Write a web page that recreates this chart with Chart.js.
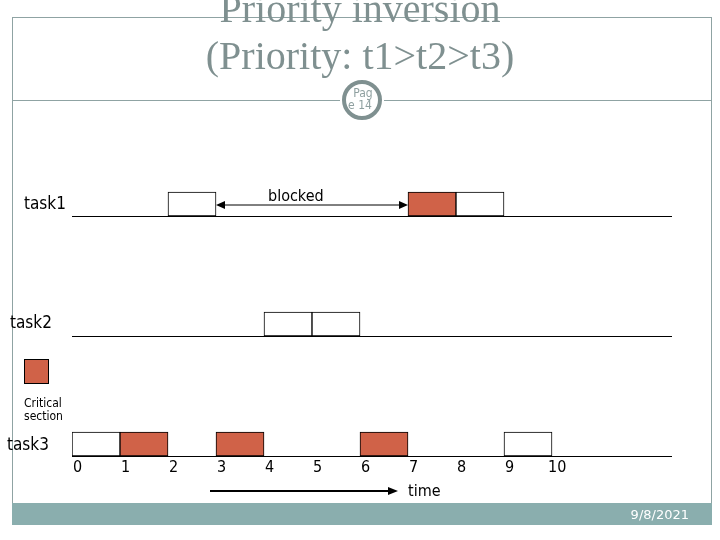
<!DOCTYPE html>
<html><head><meta charset="utf-8">
<script src="https://cdn.jsdelivr.net/npm/chart.js@4/dist/chart.umd.min.js"></script>
<style>html,body{margin:0;padding:0;background:#fff}#c{display:block}</style>
</head><body>
<canvas id="c" width="720" height="540"></canvas>
<script>
const tasks = ['task1','task2','task3'];
const task1Slots = [[2,3],[7,8],[8,9]];
const task1Critical = [false,true,false];
const task2Slots = [[4,5],[5,6]];
const task2Critical = [false,false];
const task3Slots = [[0,1],[1,2],[3,4],[6,7],[9,10]];
const task3Critical = [false,true,true,true,false];
const timeTicks = ['0','1','2','3','4','5','6','7','8','9','10'];
const blockedSpan = [3,7];

const RED = '#D06248';
const pts = [], cols = [];
[[tasks[0],task1Slots,task1Critical],[tasks[1],task2Slots,task2Critical],[tasks[2],task3Slots,task3Critical]].forEach(([t,s,c])=>{
  s.forEach((r,i)=>{pts.push({y:t,x:r});cols.push(c[i]?RED:'#fff');});
});

const deco = {
  id:'deco',
  beforeDraw(ch){
    const g=ch.ctx;
    g.save();
    g.fillStyle='#fff';g.fillRect(0,0,720,540);
    g.strokeStyle='#8FA3A3';g.lineWidth=1;
    g.beginPath();
    g.moveTo(12.5,17);g.lineTo(12.5,525);
    g.moveTo(711.5,17);g.lineTo(711.5,525);
    g.moveTo(12,17.5);g.lineTo(712,17.5);
    g.moveTo(12,100.5);g.lineTo(340,100.5);
    g.moveTo(384,100.5);g.lineTo(712,100.5);
    g.stroke();
    g.fillStyle='#8AAEAE';g.fillRect(12,503,700,22);
    g.fillStyle='#fff';g.font='13px "DejaVu Sans"';g.textAlign='right';g.textBaseline='middle';
    g.fillText('9/8/2021',689,516);
    g.fillStyle='#7F9090';g.font='40px "Liberation Serif"';g.textAlign='center';g.textBaseline='alphabetic';
    g.fillText('Priority inversion',360,22);
    g.fillText('(Priority: t1>t2>t3)',360,69);
    g.beginPath();g.arc(362,100,18,0,Math.PI*2);g.fillStyle='#fff';g.fill();
    g.lineWidth=4;g.strokeStyle='#7F9090';g.stroke();
    g.fillStyle='#8FA0A0';g.font='12px "DejaVu Sans Condensed"';g.textBaseline='middle';
    g.fillText('Pag',363,94);g.fillText('e 14',360,106);
    g.restore();
  },
  afterDatasetsDraw(ch){
    const g=ch.ctx,x=ch.scales.x,y=ch.scales.y;
    g.save();
    g.strokeStyle='#000';g.lineWidth=1;
    tasks.forEach(t=>{
      const py=Math.round(y.getPixelForValue(tasks.indexOf(t))+12)+0.5;
      g.beginPath();g.moveTo(x.getPixelForValue(0),py);g.lineTo(x.getPixelForValue(12.5),py);g.stroke();
    });
    g.fillStyle='#000';g.font='17px "DejaVu Sans Condensed"';g.textBaseline='middle';
    g.textAlign='left';
    g.fillText('task1',24,205);g.fillText('task2',10,324);g.fillText('task3',7,446);
    g.font='16px "DejaVu Sans Condensed"';
    timeTicks.forEach((s,i)=>{g.fillText(s,x.getPixelForValue(i)+(i==10?-4:1),468);});
    g.fillText('time',408,492);
    g.fillText('blocked',268,197);
    const a=x.getPixelForValue(blockedSpan[0]),b=x.getPixelForValue(blockedSpan[1]),ay=205;
    g.beginPath();g.moveTo(a+2,ay);g.lineTo(b-2,ay);g.stroke();
    const head=(px,dir)=>{g.beginPath();g.moveTo(px,ay);g.lineTo(px-dir*9,ay-4);g.lineTo(px-dir*9,ay+4);g.closePath();g.fill();};
    head(a,-1);head(b,1);
    g.lineWidth=2;g.beginPath();g.moveTo(210,491);g.lineTo(390,491);g.stroke();
    g.beginPath();g.moveTo(398,491);g.lineTo(388,487);g.lineTo(388,495);g.closePath();g.fill();
    g.lineWidth=1;g.fillStyle=RED;g.fillRect(24.5,359.5,24,24);g.strokeRect(24.5,359.5,24,24);
    g.fillStyle='#000';g.font='12px "DejaVu Sans Condensed"';
    g.fillText('Critical',24,404);g.fillText('section',24,417);
    g.restore();
  }
};

new Chart(document.getElementById('c'),{
  type:'bar',
  data:{labels:tasks,datasets:[{data:pts,backgroundColor:cols,borderColor:'#000',borderWidth:1,borderSkipped:false,barThickness:24,grouped:false}]},
  options:{
    indexAxis:'y',responsive:false,animation:false,devicePixelRatio:1,
    layout:{padding:{left:72,right:48,top:144,bottom:36}},
    plugins:{legend:{display:false},tooltip:{enabled:false}},
    scales:{
      x:{type:'linear',min:0,max:12.5,display:false},
      y:{type:'category',display:false}
    }
  },
  plugins:[deco]
});
</script>
</body></html>
